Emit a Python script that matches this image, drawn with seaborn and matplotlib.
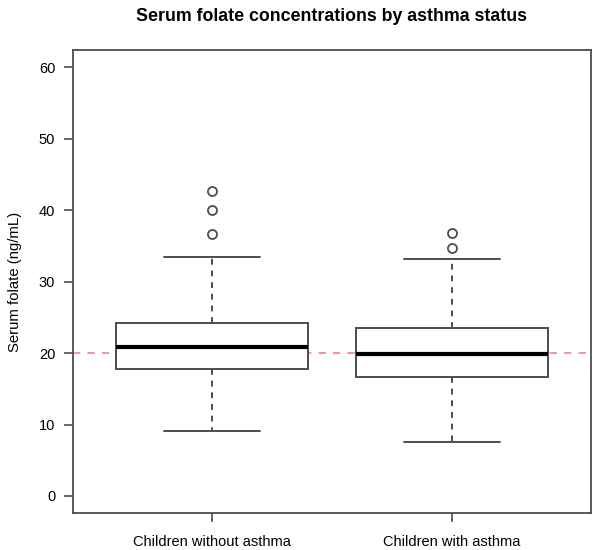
import pandas as pd
import numpy as np
import matplotlib
matplotlib.use("Agg")
import matplotlib.pyplot as plt
import seaborn as sns

# Group labels
groups = ["Children without asthma", "Children with asthma"]

# the in-between points are estimates that sit inside the boxes/whiskers.
folate_no_asthma = [9.1, 12.5, 14.8, 16.4, 17.8, 18.6, 19.5, 20.3, 20.9,
                    21.8, 22.6, 23.4, 24.2, 33.4, 36.6, 40.0, 42.7]
folate_asthma = [7.5, 11.0, 13.6, 15.4, 16.6, 17.5, 18.4, 19.2, 19.9,
                 20.8, 21.7, 22.6, 23.5, 27.9, 33.2, 34.7, 36.8]

reference_level = 20
y_ticks = [0, 10, 20, 30, 40, 50, 60]

df = pd.DataFrame({
    "group": [groups[0]] * len(folate_no_asthma) + [groups[1]] * len(folate_asthma),
    "folate": folate_no_asthma + folate_asthma,
})

sns.set_style("ticks")
plt.rcParams["font.family"] = ["Liberation Sans", "DejaVu Sans"]
plt.rcParams["text.color"] = "black"
plt.rcParams["axes.labelcolor"] = "black"

edge = "#4d4d4d"
fig = plt.figure(figsize=(6, 5.5), dpi=100)
ax = fig.add_axes([0.121, 0.067, 0.864, 0.842])

ax.axhline(reference_level, color="#f28b8b", lw=1.3, ls=(0, (4, 4)), zorder=0)

sns.boxplot(
    data=df, x="group", y="folate", order=groups, ax=ax,
    color="white", linecolor=edge, linewidth=1.4, width=0.8, whis=1.5,
    medianprops=dict(color="black", linewidth=3),
    whiskerprops=dict(linestyle=(0, (3, 3))),
    flierprops=dict(marker="o", markerfacecolor="none",
                    markeredgecolor=edge, markersize=6.5, markeredgewidth=1.3),
)

ax.set_ylim(-2.4, 62.4)
ax.set_xlim(-0.58, 1.58)
ax.set_yticks(y_ticks)
ax.set_xlabel("")
ax.set_ylabel("Serum folate (ng/mL)", fontsize=10.7, labelpad=12, color="black")
ax.set_title("Serum folate concentrations by asthma status",
             fontsize=12.8, fontweight="bold", pad=21, color="black")
ax.tick_params(axis="both", colors=edge, labelcolor="black", labelsize=10.5,
               length=6.5, width=1.2)
ax.tick_params(axis="y", pad=6)
ax.tick_params(axis="x", pad=9.5, labelsize=10.5)
for s in ax.spines.values():
    s.set_visible(True)
    s.set_color(edge)
    s.set_linewidth(1.3)

fig.savefig("out.png", dpi=100)
